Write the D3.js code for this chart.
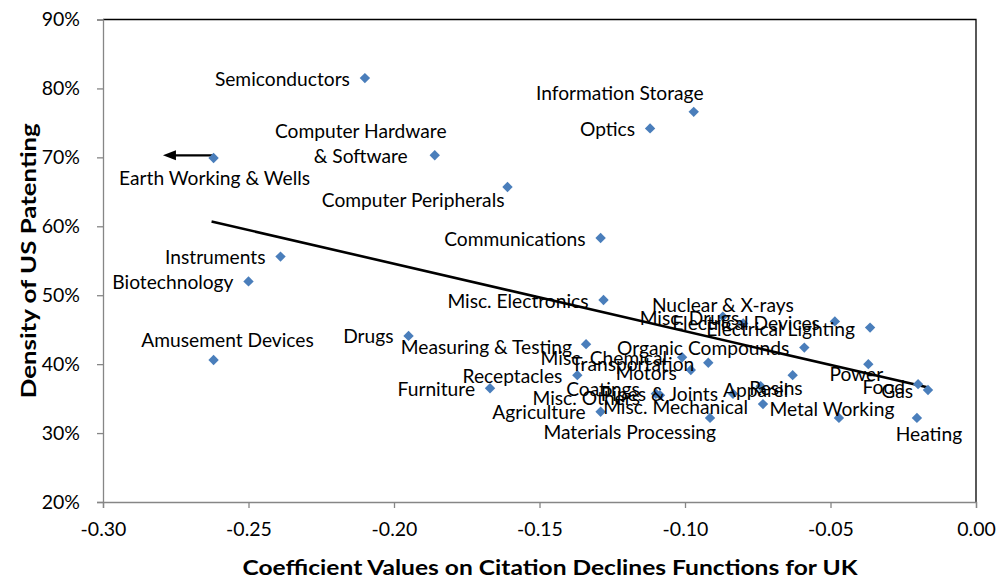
<!DOCTYPE html>
<html>
<head>
<meta charset="utf-8">
<script src="https://cdn.jsdelivr.net/npm/d3@7"></script>
<style>
  html, body { margin: 0; padding: 0; background: #fff; }
  svg text { font-family: Lato, "Open Sans", sans-serif; }
</style>
</head>
<body>
<svg id="chart" width="999" height="578"></svg>
<script>
// ---- data ----
const categories = [
  "Semiconductors", "Information Storage", "Optics", "Computer Hardware|& Software",
  "Earth Working & Wells", "Computer Peripherals", "Communications", "Instruments",
  "Biotechnology", "Misc. Electronics", "Nuclear & X-rays", "Misc. Drugs",
  "Electrical Devices", "Electrical Lighting", "Amusement Devices", "Drugs",
  "Measuring & Testing", "Organic Compounds", "Misc. Chemical", "Transportation",
  "Motors", "Receptacles", "Furniture", "Power", "Coatings", "Apparel", "Resins",
  "Misc. Others", "Pipes & Joints", "Food", "Gas", "Metal Working", "Agriculture",
  "Misc. Mechanical", "Materials Processing", "Heating"
];
const coefUK = [
  -0.210, -0.097, -0.112, -0.186,
  -0.262, -0.161, -0.129, -0.239,
  -0.250, -0.128, -0.087, -0.080,
  -0.0485, -0.0364, -0.262, -0.195,
  -0.134, -0.059, -0.101, -0.092,
  -0.098, -0.137, -0.167, -0.037, -0.110, -0.074, -0.063,
  -0.1086, -0.0835, -0.0199, -0.0165, -0.0471, -0.129,
  -0.0732, -0.0914, -0.0203
];
const densityUS = [
  0.815, 0.766, 0.742, 0.703,
  0.699, 0.657, 0.583, 0.556,
  0.520, 0.493, 0.469, 0.459,
  0.462, 0.453, 0.406, 0.441,
  0.429, 0.424, 0.410, 0.402,
  0.3915, 0.384, 0.365, 0.400, 0.357, 0.368, 0.384,
  0.355, 0.357, 0.371, 0.3625, 0.322, 0.331,
  0.342, 0.322, 0.322
];
const trendX = [-0.2627, -0.0164];
const trendY = [0.607, 0.366];
const arrowFromX = -0.262, arrowToX = -0.2794, arrowY = 0.703;
const xTicks = [-0.30, -0.25, -0.20, -0.15, -0.10, -0.05, 0.00];
const yTicks = [0.2, 0.3, 0.4, 0.5, 0.6, 0.7, 0.8, 0.9];

// ---- label layout (anchor, dx, dy in px relative to marker) ----
const L = ["end", -15, 0];
const labelLayout = [
  L, ["middle", -74, -19], L, ["middle", -74, -25],
  ["middle", 1, 19], ["end", -3, 13], L, L,
  L, L, ["middle", 0, -12], ["end", -4, -6],
  ["end", -15, 1], ["end", -15, 1], ["middle", 14, -21], L,
  ["end", -14, 2], L, ["end", -15, 0], ["end", -14, 1],
  ["end", -14, 2], L, L, ["middle", -12, 9], ["end", -16, -5], ["middle", -5, 3], ["end", 10, 12],
  ["end", -20, 2], ["end", -15, 0], ["end", -13, 2], ["end", -15, 1], ["middle", -7, -9], L,
  ["end", -15, 2], ["end", 6, 14], ["middle", 12, 16]
];

// ---- chart ----
const svg = d3.select("#chart");
const pL = 103, pR = 976, pT = 19.5, pB = 502;
const x = d3.scaleLinear().domain([-0.30, 0]).range([pL, pR]);
const y = d3.scaleLinear().domain([0.20, 0.90]).range([pB, pT]);

// plot border (top/right)
svg.append("path")
  .attr("d", `M${pL},${pT}H${pR}V${pB}`)
  .attr("fill", "none").attr("stroke", "#000").attr("stroke-width", 1.3);

const axisColor = "#868686";
const yAxis = svg.append("g").attr("transform", `translate(${pL},0)`)
  .call(d3.axisLeft(y).tickValues(yTicks).tickSize(6).tickPadding(17).tickFormat(d3.format(".0%")));
const xAxis = svg.append("g").attr("transform", `translate(0,${pB})`)
  .call(d3.axisBottom(x).tickValues(xTicks).tickSize(6).tickPadding(14).tickFormat(d3.format(".2f")));
[yAxis, xAxis].forEach(g => {
  g.select(".domain").attr("stroke", axisColor).attr("stroke-width", 1.3);
  g.selectAll(".tick line").attr("stroke", axisColor).attr("stroke-width", 1.3);
  g.selectAll(".tick text").attr("fill", "#000").style("font-size", "19.5px")
    .style("font-family", "Lato, sans-serif");
});
xAxis.selectAll(".tick text").text(d => d3.format(".2f")(d).replace("−", "-"));

// axis titles
svg.append("text")
  .attr("x", 550).attr("y", 567).attr("text-anchor", "middle")
  .attr("dominant-baseline", "central")
  .style("font-size", "20px").style("font-weight", "bold")
  .attr("textLength", 615).attr("lengthAdjust", "spacingAndGlyphs")
  .text("Coefficient Values on Citation Declines Functions for UK");
svg.append("text")
  .attr("transform", `translate(28,${(pT + pB) / 2}) rotate(-90)`)
  .attr("text-anchor", "middle").attr("dominant-baseline", "central")
  .style("font-size", "20px").style("font-weight", "bold")
  .attr("textLength", 275).attr("lengthAdjust", "spacingAndGlyphs")
  .text("Density of US Patenting");

// trend line
svg.append("line")
  .attr("x1", x(trendX[0])).attr("y1", y(trendY[0]))
  .attr("x2", x(trendX[1])).attr("y2", y(trendY[1]))
  .attr("stroke", "#000").attr("stroke-width", 2.6);

// arrow for Earth Working & Wells
const ax1 = x(arrowFromX), ax2 = x(arrowToX), ay = y(arrowY);
svg.append("line").attr("x1", ax1).attr("y1", ay).attr("x2", ax2 + 10).attr("y2", ay)
  .attr("stroke", "#000").attr("stroke-width", 2.2);
svg.append("path")
  .attr("d", `M${ax2},${ay}L${ax2 + 13},${ay - 5}L${ax2 + 13},${ay + 5}Z`)
  .attr("fill", "#000");

const data = categories.map((c, i) => ({ name: c, cx: coefUK[i], cy: densityUS[i], lay: labelLayout[i] }));

// markers
svg.append("g").selectAll("path").data(data).join("path")
  .attr("d", d3.symbol().type(d3.symbolSquare).size(54))
  .attr("transform", d => `translate(${x(d.cx)},${y(d.cy)}) rotate(45)`)
  .attr("fill", "#4A7EBB");

// labels
const lab = svg.append("g").selectAll("text").data(data).join("text")
  .attr("x", d => x(d.cx) + d.lay[1])
  .attr("y", d => y(d.cy) + d.lay[2])
  .attr("text-anchor", d => d.lay[0])
  .attr("dominant-baseline", "central")
  .style("font-size", "19.2px").attr("fill", "#000");
lab.each(function(d) {
  const parts = d.name.split("|");
  const t = d3.select(this);
  if (parts.length === 1) { t.text(d.name); return; }
  parts.forEach((p, k) => {
    t.append("tspan").attr("x", x(d.cx) + d.lay[1]).attr("dy", k === 0 ? 0 : 25).text(p);
  });
});
</script>
</body>
</html>
